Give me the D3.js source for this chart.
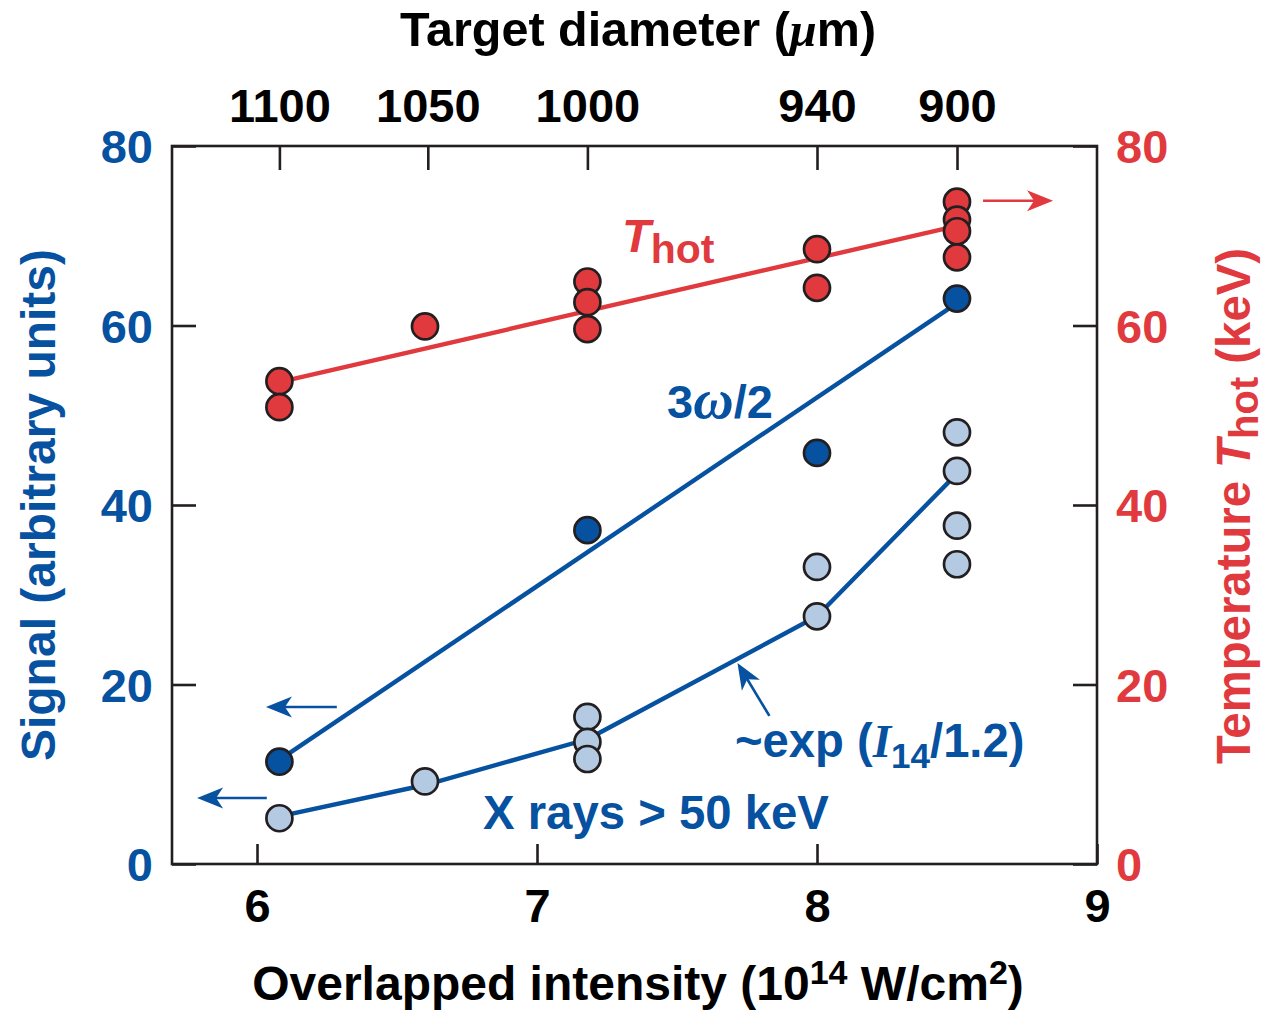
<!DOCTYPE html>
<html><head><meta charset="utf-8">
<script src="https://cdn.jsdelivr.net/npm/d3@7"></script>
<style>
body{margin:0;background:#fff}
svg{display:block}
text{font-family:"Liberation Sans",Arial,Helvetica,sans-serif;font-weight:bold}
</style>
</head><body>
<svg id="chart" width="1268" height="1011"></svg>
<script>
// ---- data ----
const xTicks = [6, 7, 8, 9];
const yTicks = [0, 20, 40, 60, 80];
const topTickLabels = ["1100", "1050", "1000", "940", "900"];
const topTickIntensity = [6.08, 6.61, 7.18, 8.0, 8.5];

const thotX = [6.08, 6.08, 6.6, 7.18, 7.18, 7.18, 8.0, 8.0, 8.5, 8.5, 8.5, 8.5];
const thotY = [53.8, 50.9, 59.9, 64.9, 62.6, 59.6, 68.5, 64.2, 73.8, 71.8, 70.5, 67.6];
const thotFitX = [6.08, 8.5];
const thotFitY = [53.7, 71.1];

const w32X = [6.08, 7.18, 8.0, 8.5];
const w32Y = [11.4, 37.2, 45.8, 63.0];
const w32FitX = [6.08, 8.5];
const w32FitY = [11.6, 62.5];

const xrayX = [6.08, 6.6, 7.18, 7.18, 7.18, 8.0, 8.0, 8.5, 8.5, 8.5, 8.5];
const xrayY = [5.1, 9.2, 16.4, 13.6, 11.7, 33.1, 27.6, 48.1, 43.8, 37.7, 33.4];
const xrayFitX = [6.08, 6.6, 7.18, 8.0, 8.5];
const xrayFitY = [5.3, 8.8, 13.9, 27.6, 43.5];

// ---- style ----
const RED = "#E03A3E", DBLUE = "#0651A0", LBLUE = "#B4CAE2", INK = "#231F20";
const FS = 47, TFS = 48;

const svg = d3.select("#chart");
const L = 172, R = 1097, T = 146, B = 864;
const x = d3.scaleLinear().domain([5.7, 9]).range([L + 1, R]);
const y = d3.scaleLinear().domain([0, 80]).range([B, T]);

// frame
svg.append("rect").attr("x", L).attr("y", T).attr("width", R - L).attr("height", B - T)
  .attr("fill", "none").attr("stroke", INK).attr("stroke-width", 2.6);

// bottom axis
const bottom = svg.append("g").attr("transform", `translate(0,${B})`)
  .call(d3.axisBottom(x).tickValues(xTicks).tickSize(-20).tickPadding(0).tickFormat(d3.format("d")));
bottom.select(".domain").remove();
bottom.selectAll(".tick line").attr("stroke", INK).attr("stroke-width", 2.6);
bottom.selectAll(".tick text").attr("font-size", FS).attr("fill", "#000")
  .attr("font-family", null).attr("y", 58).attr("dy", 0);

// top axis
const xTop = svg.append("g").attr("transform", `translate(0,${T})`)
  .call(d3.axisTop(x).tickValues(topTickIntensity).tickSize(-24).tickPadding(0)
    .tickFormat((d, i) => topTickLabels[i]));
xTop.select(".domain").remove();
xTop.selectAll(".tick line").attr("stroke", INK).attr("stroke-width", 2.6);
xTop.selectAll(".tick text").attr("font-size", FS).attr("fill", "#000")
  .attr("font-family", null).attr("y", -24).attr("dy", 0);

// left axis
const left = svg.append("g").attr("transform", `translate(${L},0)`)
  .call(d3.axisLeft(y).tickValues(yTicks).tickSize(-24).tickPadding(20));
left.select(".domain").remove();
left.selectAll(".tick line").attr("stroke", INK).attr("stroke-width", 2.6);
left.selectAll(".tick text").attr("font-size", FS).attr("fill", DBLUE)
  .attr("font-family", null).attr("x", -19).attr("dy", "0.36em");

// right axis
const right = svg.append("g").attr("transform", `translate(${R},0)`)
  .call(d3.axisRight(y).tickValues(yTicks).tickSize(-24).tickPadding(20));
right.select(".domain").remove();
right.selectAll(".tick line").attr("stroke", INK).attr("stroke-width", 2.6);
right.selectAll(".tick text").attr("font-size", FS).attr("fill", RED)
  .attr("font-family", null).attr("x", 19).attr("dy", "0.36em");

// axis titles
const topTitle = svg.append("text").attr("x", 638).attr("y", 46).attr("text-anchor", "middle")
  .attr("font-size", 48.5).attr("fill", "#000");
topTitle.append("tspan").text("Target diameter (");
topTitle.append("tspan").attr("font-style", "italic").attr("font-family", "'Liberation Serif',serif").text("μ");
topTitle.append("tspan").text("m)");

const botTitle = svg.append("text").attr("x", 638).attr("y", 1000).attr("text-anchor", "middle")
  .attr("font-size", TFS).attr("fill", "#000");
botTitle.append("tspan").text("Overlapped intensity (10");
botTitle.append("tspan").attr("font-size", 34).attr("dy", -16).text("14");
botTitle.append("tspan").attr("dy", 16).text(" W/cm");
botTitle.append("tspan").attr("font-size", 34).attr("dy", -16).text("2");
botTitle.append("tspan").attr("dy", 16).text(")");

svg.append("text").attr("transform", `translate(55,${(T + B) / 2}) rotate(-90)`)
  .attr("text-anchor", "middle").attr("font-size", TFS).attr("fill", DBLUE)
  .text("Signal (arbitrary units)");

const rTitle = svg.append("text").attr("transform", `translate(1250,${(T + B) / 2 + 1}) rotate(-90)`)
  .attr("text-anchor", "middle").attr("font-size", 47.3).attr("fill", RED);
rTitle.append("tspan").text("Temperature ");
rTitle.append("tspan").attr("font-style", "italic").text("T");
rTitle.append("tspan").attr("font-size", 40).attr("dy", 8).text("hot");
rTitle.append("tspan").attr("dy", -8).text(" (keV)");

// lines
const line = d3.line().x(d => x(d[0])).y(d => y(d[1]));
function drawLine(xs, ys, color) {
  svg.append("path").datum(xs.map((v, i) => [v, ys[i]])).attr("d", line)
    .attr("fill", "none").attr("stroke", color).attr("stroke-width", 4.4).attr("stroke-linejoin", "round");
}
drawLine(thotFitX, thotFitY, RED);
drawLine(w32FitX, w32FitY, DBLUE);
drawLine(xrayFitX, xrayFitY, DBLUE);

// dots
function drawDots(xs, ys, fill) {
  svg.append("g").selectAll("circle").data(xs.map((v, i) => [v, ys[i]])).join("circle")
    .attr("cx", d => x(d[0])).attr("cy", d => y(d[1])).attr("r", 13)
    .attr("fill", fill).attr("stroke", INK).attr("stroke-width", 2.7);
}
drawDots(thotX, thotY, RED);
drawDots(w32X, w32Y, DBLUE);
drawDots(xrayX, xrayY, LBLUE);

// arrows (annotation positions in data units)
function arrow(x0, y0, x1, y1, color) {
  const px0 = x(x0), py0 = y(y0), px1 = x(x1), py1 = y(y1);
  const ang = Math.atan2(py1 - py0, px1 - px0);
  const len = 26, half = 10.5, notch = 19;
  const g = svg.append("g").attr("transform", `translate(${px1},${py1}) rotate(${ang * 180 / Math.PI})`);
  const dist = Math.hypot(px1 - px0, py1 - py0);
  g.append("line").attr("x1", -dist).attr("y1", 0).attr("x2", -notch + 2).attr("y2", 0)
    .attr("stroke", color).attr("stroke-width", 2.6);
  g.append("path").attr("d", `M0,0 L${-len},${-half} L${-notch},0 L${-len},${half} Z`).attr("fill", color);
}
arrow(8.593, 73.9, 8.843, 73.9, RED);
arrow(6.285, 17.5, 6.032, 17.5, DBLUE);
arrow(6.035, 7.35, 5.786, 7.35, DBLUE);
arrow(7.830, 16.5, 7.716, 22.4, DBLUE);

// labels
const th = svg.append("text").attr("x", 622).attr("y", 252).attr("font-size", FS).attr("fill", RED);
th.append("tspan").attr("font-style", "italic").text("T");
th.append("tspan").attr("font-size", 41).attr("dy", 11).text("hot");

const w = svg.append("text").attr("x", 667).attr("y", 418).attr("font-size", FS).attr("fill", DBLUE);
w.append("tspan").text("3");
w.append("tspan").attr("font-style", "italic").attr("font-family", "'Liberation Serif',serif")
  .attr("font-size", 56).text("ω");
w.append("tspan").text("/2");

svg.append("text").attr("x", 483).attr("y", 829).attr("font-size", 47.3).attr("fill", DBLUE)
  .text("X rays > 50 keV");

const ex = svg.append("text").attr("x", 735).attr("y", 757).attr("font-size", 47.2).attr("fill", DBLUE);
ex.append("tspan").text("~exp (");
ex.append("tspan").attr("font-style", "italic").attr("font-family", "'Liberation Serif',serif").text("I");
ex.append("tspan").attr("font-size", 35).attr("dy", 11).text("14");
ex.append("tspan").attr("dy", -11).text("/1.2)");
</script>
</body></html>
